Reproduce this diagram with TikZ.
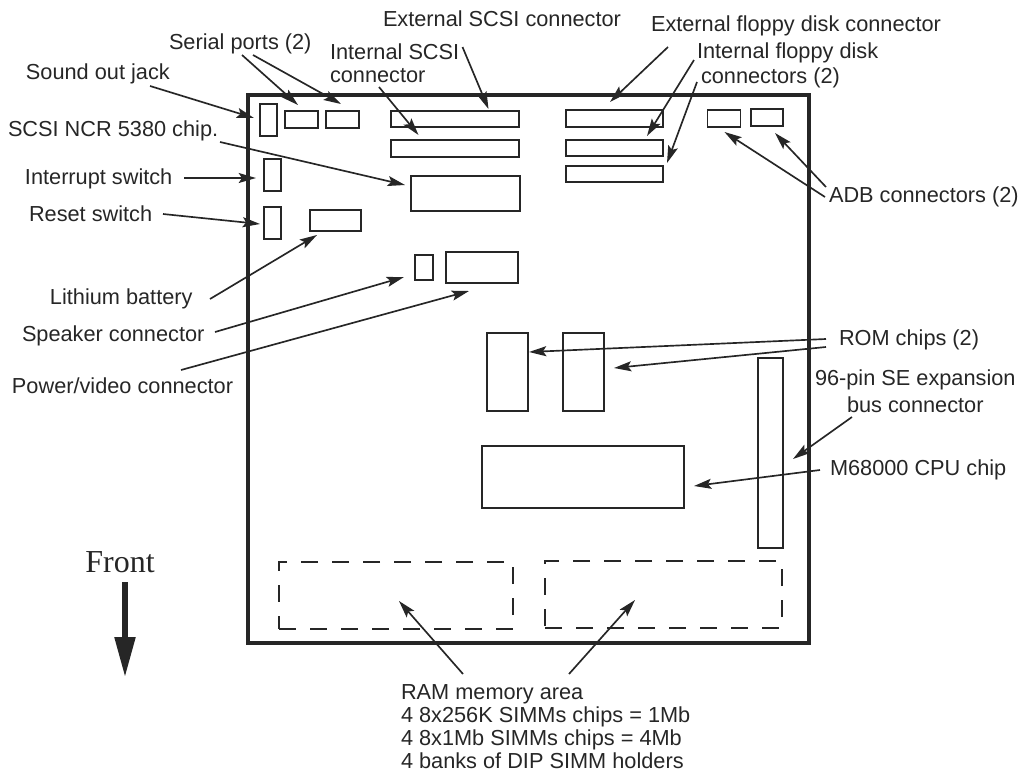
\documentclass[tikz,border=0pt]{standalone}
\usepackage{fontspec}
\setmainfont{Liberation Sans}
\newfontfamily\frontfont{Liberation Serif}
\usetikzlibrary{arrows.meta,positioning}

\begin{document}
\begin{tikzpicture}[
  x=0.75pt, y=-0.75pt,
  chip/.style 2 args={draw=black!85, line width=1.2pt, inner sep=0pt, outer sep=0pt, minimum width=#1*0.75pt, minimum height=#2*0.75pt},
  board/.style 2 args={chip={#1}{#2}, line width=2.3pt},
  simm/.style 2 args={chip={#1}{#2}, dash pattern=on 12.75pt off 10.5pt},
  block/.style={anchor=west, inner sep=0pt, outer sep=0pt, align=left, text=black!85, font=\fontsize{16.3}{17.25}\selectfont},
  lbl/.style={block, text height=14pt, text depth=2.5pt},
  arr/.style={-{Stealth[length=13pt, width=7.5pt, inset=2.5pt]}, line width=1.25pt, draw=black!85},
  bigarr/.style={-{Triangle[length=30pt, width=15pt]}, line width=4pt, draw=black!85}
]
\useasboundingbox (0,0) rectangle (1033,772);
\node[board={561}{548}] (main) at (528.5,369) {};
% connectors on the board
\node[chip={17}{32}] (jack) at (268.5,120) {};
\node[chip={33}{17}] (serA) at (301.5,119.5) {};
\node[chip={33}{17}] (serB) at (342.5,119.5) {};
\node[chip={127.5}{16}] (extscsi) at (455,119) {};
\node[chip={127.5}{17}] (intscsi) at (455,148.5) {};
\node[chip={109}{35}] (ncr) at (465.5,193.5) {};
\node[chip={17}{32}] (intr) at (272.5,175) {};
\node[chip={17}{32}] (rst) at (272.5,223) {};
\node[chip={51}{21}] (batt) at (335.5,220.5) {};
\node[chip={18}{25}] (spk) at (424,267.5) {};
\node[chip={71.5}{31}] (pow) at (482,267.5) {};
\node[chip={97}{17}] (flopA) at (614.5,118.5) {};
\node[chip={97}{16}] (flopB) at (614.5,148) {};
\node[chip={97}{16}] (flopC) at (614.5,174) {};
\node[chip={33}{17}] (adbA) at (724,118.5) {};
\node[chip={32}{17}] (adbB) at (767,117.5) {};
\node[chip={41}{78}] (romA) at (507.5,372) {};
\node[chip={41}{78}] (romB) at (583.5,372) {};
\node[chip={25}{190}] (expn) at (770.5,453) {};
\node[chip={201.5}{62}] (cpu) at (583,477) {};
\node[simm={234}{67}] (simA) at (396,595.5) {};
\node[simm={237}{67}] (simB) at (663.5,594.5) {};
% labels
\node[lbl] (lblextscsi) at (383,19) {External SCSI connector};
\node[lbl] (lblserial) at (169,42) {Serial ports (2)};
\node[block] (lblintscsi) at (330,63.5) {Internal SCSI\\connector};
\node[lbl] (lbljack) at (26,72) {Sound out jack};
\node[lbl] (lblncr) at (8,129) {SCSI NCR 5380 chip.};
\node[lbl] (lblintr) at (25,177) {Interrupt switch};
\node[lbl] (lblrst) at (29,214) {Reset switch};
\node[lbl] (lblbatt) at (50,297) {Lithium battery};
\node[lbl] (lblspk) at (22,334) {Speaker connector};
\node[lbl] (lblpow) at (12,386) {Power/video connector};
\node[lbl] (lblextflop) at (651,24) {External floppy disk connector};
\node[block] (lblintflop) at (697,65.5) {Internal floppy disk\\[1.5pt]\hspace{3pt}connectors (2)};
\node[lbl] (lbladb) at (829,195) {ADB connectors (2)};
\node[lbl] (lblrom) at (839,338) {ROM chips (2)};
\node[block, align=center] (lblexpn) at (815,391) {96-pin SE expansion\\[3pt]bus connector};
\node[lbl] (lblcpu) at (830,468) {M68000 CPU chip};
\node[block] (lblram) at (401,726.5) {RAM memory area\\4 8x256K SIMMs chips = 1Mb\\4 8x1Mb SIMMs chips = 4Mb\\4 banks of DIP SIMM holders};
\node[anchor=center, inner sep=0pt, text=black!85, font=\frontfont\fontsize{24}{26}\selectfont] (front) at (120,562) {Front};
% arrows
\draw[arr] ([shift={(124,14)}]lbljack.west) -- ([shift={(-14.5,-2)}]jack.center);
\draw[arr] ([shift={(73,13)}]lblserial.west) -- ([shift={(-3.5,-14.5)}]serA.center);
\draw[arr] ([shift={(84,13)}]lblserial.west) -- ([shift={(-1.5,-15.5)}]serB.center);
\draw[arr] ([shift={(49,23.5)}]lblintscsi.west) -- ([shift={(-36.5,-13.5)}]intscsi.center);
\draw[arr] ([shift={(79.5,28)}]lblextscsi.west) -- ([shift={(33.5,-10)}]extscsi.center);
\draw[arr] ([shift={(212,13)}]lblncr.west) -- ([shift={(-60.5,-8.5)}]ncr.center);
\draw[arr] ([shift={(159,1)}]lblintr.west) -- ([shift={(-16.5,3)}]intr.center);
\draw[arr] ([shift={(134,0)}]lblrst.west) -- ([shift={(-12.5,1)}]rst.center);
\draw[arr] ([shift={(160,2)}]lblbatt.west) -- ([shift={(-18.5,14.5)}]batt.center);
\draw[arr] ([shift={(193,-2)}]lblspk.west) -- ([shift={(-20,9.5)}]spk.center);
\draw[arr] ([shift={(169,-16)}]lblpow.west) -- ([shift={(-13,23.5)}]pow.center);
\draw[arr] ([shift={(17,23)}]lblextflop.west) -- ([shift={(-4.5,-16.5)}]flopA.center);
\draw[arr] ([shift={(-3,-5.5)}]lblintflop.west) -- ([shift={(32.5,-12)}]flopB.center);
\draw[arr] ([shift={(0,16.5)}]lblintflop.west) -- ([shift={(52.5,-11)}]flopC.center);
\draw[arr] ([shift={(-4,2)}]lbladb.west) -- ([shift={(0.5,13.5)}]adbA.center);
\draw[arr] ([shift={(-3,-8)}]lbladb.west) -- ([shift={(8,15.5)}]adbB.center);
\draw[arr] ([shift={(-13,1)}]lblrom.west) -- ([shift={(21.5,-20)}]romA.center);
\draw[arr] ([shift={(-13,9)}]lblrom.west) -- ([shift={(30.5,-4)}]romB.center);
\draw[arr] ([shift={(37,26)}]lblexpn.west) -- ([shift={(22.5,6)}]expn.center);
\draw[arr] ([shift={(-10,2)}]lblcpu.west) -- ([shift={(111,9)}]cpu.center);
\draw[arr] ([shift={(62,-52.5)}]lblram.west) -- ([shift={(3,5.5)}]simA.center);
\draw[arr] ([shift={(168,-52.5)}]lblram.west) -- ([shift={(-28.5,5.5)}]simB.center);
\draw[bigarr] ([shift={(5,20)}]front.center) -- ([shift={(5,115)}]front.center);
\end{tikzpicture}
\end{document}
